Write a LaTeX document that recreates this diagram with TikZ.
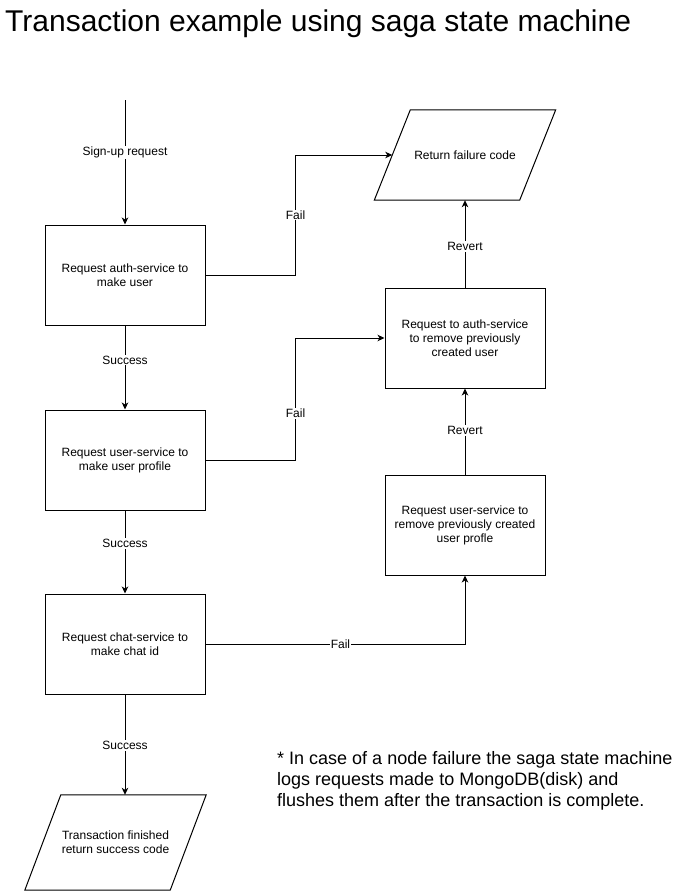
\documentclass[tikz,border=0pt]{standalone}
\usepackage{fontspec}
\setmainfont{Liberation Sans}
\usetikzlibrary{arrows.meta, calc}

\tikzset{
    proc/.style={draw, line width=1pt, minimum width=160pt, minimum height=100pt, align=center, font=\fontsize{12}{14}\selectfont},
    io/.style={minimum width=145pt, minimum height=90pt, align=center, font=\fontsize{12}{14}\selectfont},
    flow/.style={line width=1pt, -{Stealth[length=7pt, width=6.5pt, inset=2pt]}},
    lbl/.style={fill=white, inner sep=1pt, font=\fontsize{12}{14}\selectfont},
}

\begin{document}
\begin{tikzpicture}[x=1pt, y=-1pt]
    \useasboundingbox (0, 0) rectangle (696, 891);

    \node[anchor=base west, inner sep=0, font=\fontsize{30}{35}\selectfont] (title) at (5, 32) {Transaction example using saga state machine};

    \coordinate (start) at (125, 100);
    \node[proc] (auth) at (125, 275) {Request auth-service to\\make user};
    \node[proc] (user) at (125, 460) {Request user-service to\\make user profile};
    \node[proc] (chat) at (125, 644) {Request chat-service to\\make chat id};
    \node[io, minimum height=95pt] (done) at (115.5, 842.5) {Transaction finished\\return success code};

    \node[io] (failret) at (465, 155) {Return failure code};
    \node[proc] (authundo) at (465, 338) {Request to auth-service\\to remove previously\\created user};
    \node[proc] (userundo) at (465, 525) {Request user-service to\\remove previously created\\user profle};

    \foreach \n in {failret, done}
        \draw[line width=1pt] ([xshift=-18pt]\n.south west) -- ([xshift=-18pt]\n.south east) -- ([xshift=18pt]\n.north east) -- ([xshift=18pt]\n.north west) -- cycle;

    \draw[flow] (start) -- node[lbl, pos=0.42] {Sign-up request} (auth);
    \draw[flow] (auth) -- node[lbl, pos=0.41] {Success} (user);
    \draw[flow] (user) -- node[lbl, pos=0.4] {Success} (chat);
    \draw[flow] (chat) -- node[lbl, pos=0.51] {Success} (chat.south |- done.north);

    \draw[flow] (auth.east) -- ++(90, 0) |- node[lbl, pos=0.25] {Fail} (failret.west);
    \draw[flow] (user.east) -- ++(90, 0) |- node[lbl, pos=0.19] {Fail} (authundo.west);
    \draw[flow] (chat.east) -| node[lbl, pos=0.26] {Fail} (userundo.south);
    \draw[flow] (userundo) -- node[lbl, pos=0.51] {Revert} (authundo);
    \draw[flow] (authundo) -- node[lbl, pos=0.47] {Revert} (failret.south);

    \node[anchor=base west, align=left, inner sep=0, font=\fontsize{18}{21}\selectfont] (note) at (277, 806) {* In case of a node failure the saga state machine\\logs requests made to MongoDB(disk) and\\flushes them after the transaction is complete.};
\end{tikzpicture}
\end{document}
